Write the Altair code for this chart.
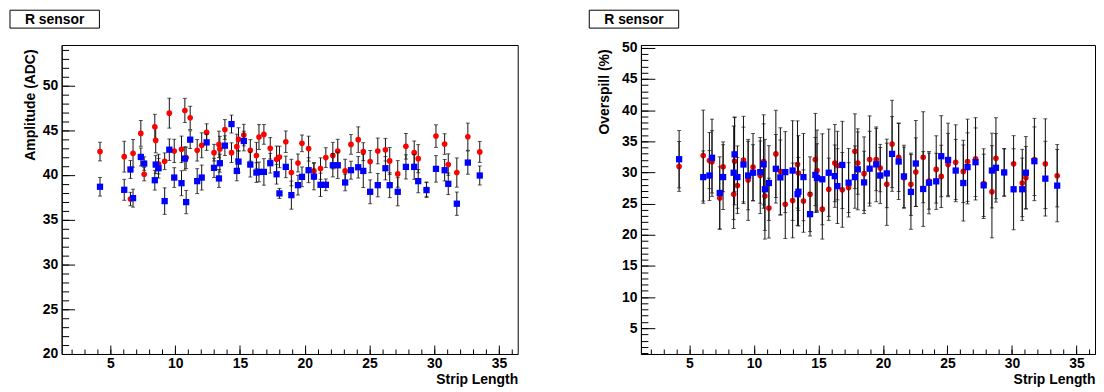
import altair as alt
import pandas as pd

strip_length = [4.2, 6.07, 6.55, 6.75, 7.35, 7.61, 8.43, 8.5, 8.72, 9.19, 9.55, 9.93, 10.49, 10.75, 10.85,
                11.16, 11.7, 12.05, 12.43, 13.0, 13.38, 13.45, 13.84, 14.35, 14.76, 14.89, 15.3, 15.8, 16.27,
                16.47, 16.85, 17.34, 17.83, 18.05, 18.54, 18.97, 19.48, 19.79, 20.3, 20.71, 21.22, 21.63,
                22.17, 22.55, 23.12, 23.57, 24.13, 24.52, 25.05, 25.64, 26.23, 26.56, 27.18, 27.81, 28.45,
                28.76, 29.4, 30.13, 30.8, 31.08, 31.74, 32.59, 33.51]

amp_red = [42.6, 42.03, 37.3, 42.4, 44.63, 40.07, 45.37, 43.85, 41.2, 41.52, 46.89, 42.67, 42.85, 47.19, 41.9,
           46.37, 42.74, 43.3, 44.74, 42.48, 43.4, 42.9, 45.07, 42.48, 43.15, 43.96, 44.44, 42.74, 42.15,
           44.22, 44.52, 42.96, 41.74, 42.0, 43.7, 40.26, 41.33, 43.52, 42.93, 40.44, 40.7, 41.93,
           42.15, 42.67, 40.44, 43.4, 43.93, 42.59, 41.48, 42.67, 42.81, 41.56, 40.11, 43.19, 42.48,
           41.81, 38.4, 44.33, 43.44, 41.15, 40.26, 44.26, 42.56]
amp_red_err = [1.04, 1.72, 0.75, 1.54, 1.44, 0.74, 1.39, 1.39, 1.1, 0.93, 1.67, 1.3, 1.48, 1.35, 1.2,
               1.3, 1.2, 1.39, 0.96, 0.93, 1.48, 1.4, 1.1, 1.1, 1.39, 1.3, 1.2, 1.2, 1.48,
               1.39, 1.1, 1.2, 1.48, 1.2, 1.2, 1.48, 1.0, 0.93, 1.39, 0.93, 1.2, 1.1,
               1.48, 1.3, 1.3, 1.1, 1.43, 1.0, 1.24, 1.44, 1.26, 1.5, 1.48, 1.43, 1.3,
               1.57, 0.8, 1.26, 1.15, 1.2, 1.63, 1.52, 1.17]
amp_blue = [38.67, 38.33, 40.6, 37.4, 42.0, 41.26, 39.4, 41.15, 40.74, 37.07, 42.81, 39.7, 39.07, 41.82, 36.96,
            43.93, 39.3, 39.7, 43.63, 40.78, 39.6, 41.3, 43.26, 45.67, 40.44, 41.48, 43.78, 41.15, 40.26,
            40.33, 40.33, 41.3, 40.07, 37.93, 40.89, 37.74, 38.85, 39.78, 40.52, 39.81, 38.89, 38.89,
            41.07, 41.07, 39.15, 40.52, 40.85, 40.44, 38.11, 38.85, 40.74, 38.85, 38.11, 40.89, 40.89,
            39.3, 38.3, 40.67, 40.52, 39.0, 36.78, 41.37, 39.93]
amp_blue_err = [1.04, 1.17, 1.0, 1.0, 1.0, 0.75, 1.1, 1.0, 1.1, 1.48, 1.2, 1.1, 1.39, 1.3, 1.3,
                1.0, 1.39, 1.39, 0.9, 1.07, 1.0, 1.0, 1.1, 1.0, 1.1, 1.2, 1.1, 1.39, 1.1,
                1.1, 1.48, 1.1, 1.1, 0.56, 1.2, 1.57, 1.1, 1.1, 1.39, 1.48, 1.3, 0.65,
                1.3, 1.48, 0.93, 1.0, 1.2, 1.85, 1.33, 1.3, 1.3, 1.39, 1.57, 1.35, 1.39,
                1.3, 0.83, 1.48, 1.2, 1.2, 1.3, 1.3, 1.06]

ovs_red = [30.96, 32.7, 31.9, 31.7, 25.9, 30.9, 26.5, 31.8, 27.9, 32.0, 28.8, 30.85, 29.5, 31.75, 26.2,
           24.27, 32.97, 30.16, 24.9, 25.5, 31.27, 29.9, 25.4, 26.5, 32.07, 30.3, 24.1, 27.3, 31.5,
           31.1, 27.2, 27.56, 33.4, 31.5, 29.8, 32.07, 32.07, 30.7, 28.1, 34.57, 32.44, 29.15,
           28.1, 30.05, 32.44, 28.6, 30.48, 29.36, 31.27, 31.64, 30.16, 31.75, 32.18, 28.2, 26.9,
           32.28, 30.0, 31.4, 28.3, 29.15, 32.07, 31.4, 29.47]
ovs_red_err = [4.0, 7.3, 4.5, 5.0, 5.0, 4.0, 5.5, 7.0, 4.5, 7.0, 6.5, 5.4, 6.1, 7.5, 5.5,
               4.8, 7.0, 7.0, 5.5, 6.0, 7.0, 6.0, 5.0, 6.0, 7.4, 6.5, 4.8, 5.0, 6.2,
               5.5, 6.0, 4.0, 6.0, 5.0, 5.9, 7.0, 5.0, 3.8, 6.6, 7.0, 5.5, 4.9,
               5.0, 5.5, 7.3, 4.5, 5.4, 5.0, 5.0, 6.0, 5.0, 6.8, 6.6, 5.6, 7.4,
               6.5, 3.8, 4.5, 5.4, 5.0, 6.6, 7.2, 5.0]
ovs_blue = [32.12, 29.25, 29.5, 32.35, 26.7, 29.25, 29.95, 32.9, 29.25, 31.27, 29.5, 29.95, 30.05, 31.3, 27.3,
            28.3, 30.58, 29.2, 30.05, 30.3, 26.5, 26.9, 29.25, 23.3, 29.6, 29.1, 28.9, 29.95, 29.4,
            27.8, 31.2, 28.35, 29.25, 30.5, 28.4, 30.6, 31.3, 29.5, 29.84, 32.97, 31.75, 29.36,
            26.87, 31.43, 27.34, 28.35, 28.57, 32.6, 32.0, 30.3, 28.3, 30.85, 31.64, 27.93, 30.3,
            30.74, 30.0, 27.3, 27.3, 29.95, 31.8, 29.0, 27.88]
ovs_blue_err = [4.6, 4.2, 4.0, 6.2, 5.8, 5.2, 7.5, 6.0, 5.0, 6.0, 5.5, 4.5, 5.0, 6.5, 8.0,
                6.0, 5.5, 6.0, 6.5, 8.0, 5.0, 5.5, 7.0, 3.5, 6.0, 5.5, 7.3, 7.0, 5.0,
                6.0, 7.0, 5.5, 5.0, 6.5, 5.0, 6.0, 6.0, 4.5, 5.5, 6.0, 6.1, 5.0,
                6.0, 6.9, 6.0, 5.0, 4.5, 6.5, 5.9, 5.0, 6.1, 5.5, 5.5, 5.0, 6.0,
                5.5, 3.8, 6.5, 5.0, 5.8, 5.5, 6.0, 5.8]

x_label_values = [5, 10, 15, 20, 25, 30, 35]
x_minor_values = list(range(2, 37))
amp_label_values = [20, 25, 30, 35, 40, 45, 50]
amp_minor_values = list(range(20, 55))
ovs_label_values = [5, 10, 15, 20, 25, 30, 35, 40, 45, 50]
ovs_minor_values = list(range(1, 51))

FONT = "Liberation Sans"
X_DOMAIN = [1.24, 36.44]
H = 311


def panel(red, red_err, blue, blue_err, ytitle, ydomain, ymajor, yminor, W, ytick_major, title_x):
    rows = []
    for series, vals, errs in (("red", red, red_err), ("blue", blue, blue_err)):
        for x, v, e in zip(strip_length, vals, errs):
            rows.append({"x": x, "v": v, "lo": v - e, "hi": v + e, "s": series})
    df = pd.DataFrame(rows)
    xs = alt.Scale(domain=X_DOMAIN, nice=False, zero=False)
    ys = alt.Scale(domain=ydomain, nice=False, zero=False)
    base = alt.Chart(df)

    layers = []
    for s, color, shape, size in (("red", "#ff0000", "circle", 32), ("blue", "#0000ff", "square", 40)):
        d = base.transform_filter(alt.datum.s == s)
        xe = alt.X("x:Q", scale=xs, axis=None)
        layers.append(d.mark_rule(color="#111111", strokeWidth=1).encode(
            x=xe, y=alt.Y("lo:Q", scale=ys, axis=None), y2="hi:Q"))
        layers.append(d.mark_tick(orient="horizontal", color="#111111", size=4, thickness=1).encode(
            x=xe, y=alt.Y("lo:Q", scale=ys, axis=None)))
        layers.append(d.mark_tick(orient="horizontal", color="#111111", size=4, thickness=1).encode(
            x=xe, y=alt.Y("hi:Q", scale=ys, axis=None)))
        layers.append(d.mark_point(shape=shape, filled=True, size=size, color=color, opacity=1).encode(
            x=xe, y=alt.Y("v:Q", scale=ys, axis=None)))

    lab_style = dict(labelFont=FONT, labelFontSize=14, labelFontWeight="bold", labelColor="black",
                     titleFont=FONT, titleFontSize=14, titleFontWeight="bold", titleColor="black",
                     grid=False)
    labels = base.mark_point(opacity=0).encode(
        x=alt.X("x:Q", scale=xs, axis=alt.Axis(
            orient="bottom", values=x_label_values, ticks=False, tickSize=0, domain=True,
            domainColor="black", domainWidth=1, labelPadding=3, title="Strip Length",
            titleX=W, titleY=30, titleAlign="right", titleBaseline="alphabetic", **lab_style)),
        y=alt.Y("v:Q", scale=ys, axis=alt.Axis(
            orient="left", values=ymajor, ticks=False, tickSize=0, domain=True,
            domainColor="black", domainWidth=1, labelPadding=4, title=ytitle,
            titleAngle=-90, titleX=title_x, titleY=4, titleAlign="right", titleBaseline="middle",
            **lab_style)),
    )
    tick_style = dict(labels=False, domain=False, ticks=True, tickColor="black", tickWidth=1,
                      grid=False, title=None)
    major = base.mark_point(opacity=0).encode(
        x=alt.X("x:Q", scale=xs, axis=alt.Axis(orient="top", offset=-H, values=x_label_values,
                                                tickSize=9, **tick_style)),
        y=alt.Y("v:Q", scale=ys, axis=alt.Axis(orient="right", offset=-W, values=ymajor,
                                                tickSize=ytick_major, **tick_style)),
    )
    minor = base.mark_point(opacity=0).encode(
        x=alt.X("x:Q", scale=xs, axis=alt.Axis(orient="top", offset=-H, values=x_minor_values,
                                                tickSize=5, **tick_style)),
        y=alt.Y("v:Q", scale=ys, axis=alt.Axis(orient="right", offset=-W, values=yminor,
                                                tickSize=7, **tick_style)),
    )

    one = alt.Data(values=[{"t": "R sensor"}])
    box = alt.Chart(one).mark_rect(fill="white", stroke="black", strokeWidth=1).encode(
        x=alt.value(-52), x2=alt.value(38), y=alt.value(-35), y2=alt.value(-17))
    txt = alt.Chart(one).mark_text(font=FONT, fontSize=14, fontWeight="bold", color="black",
                                   align="center", baseline="alphabetic").encode(
        x=alt.value(-7), y=alt.value(-21), text="t:N")

    return alt.layer(*layers, labels, major, minor, box, txt).resolve_axis(
        x="independent", y="independent").properties(width=W, height=H)


left = panel(amp_red, amp_red_err, amp_blue, amp_blue_err, "Amplitude (ADC)", [20, 54.5],
             amp_label_values, amp_minor_values, 459, 13, -31)
right = panel(ovs_red, ovs_red_err, ovs_blue, ovs_blue_err, "Overspill (%)", [0.86, 50.45],
              ovs_label_values, ovs_minor_values, 457, 14, -37)

chart = alt.hconcat(left, right, spacing=70).properties(
    padding={"left": 1, "top": 0, "right": 0, "bottom": 0},
    background="white",
).configure_view(stroke="black", strokeWidth=1)

chart.save("out.html", embed_options={"renderer": "svg", "actions": False})
